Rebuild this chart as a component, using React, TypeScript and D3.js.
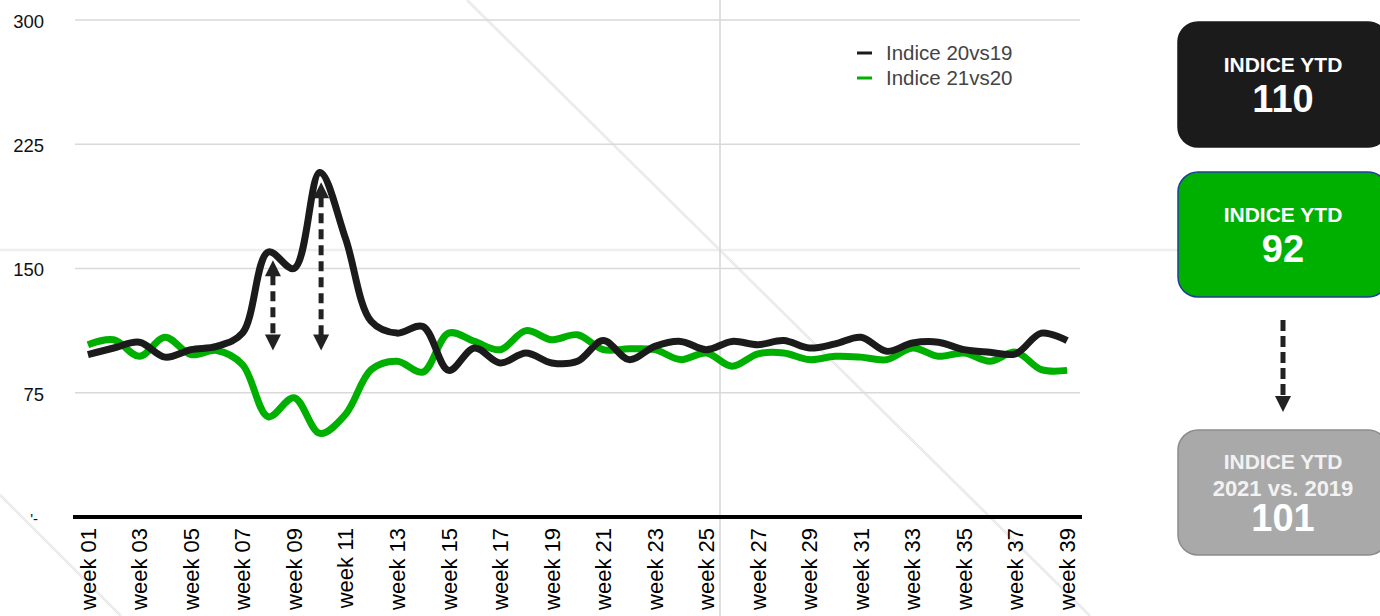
import React, { useEffect, useRef } from 'react'
import * as d3 from 'd3'

const weeks = d3.range(1, 40).map((w) => `week ${String(w).padStart(2, '0')}`)

// Indice 20vs19
const index2019 = [
  98, 102, 105.5, 96.5, 101, 103, 111, 160, 150, 208, 168, 118, 111, 115, 88.5, 102, 93, 99, 93, 94,
  106.5, 95, 103, 106, 101, 106, 104, 106.5, 102, 104.5, 108.5, 100, 105, 105.5, 101, 99.5, 98.5, 111, 106.5,
]
// Indice 21vs20
const index2020 = [
  104, 107, 97, 108.5, 98, 100.5, 92, 60.5, 72, 50.5, 62, 89, 94, 87.5, 111, 106, 101, 112.5, 107, 110,
  101, 101.5, 101, 95, 99, 91, 98.5, 99, 95, 97, 96.5, 95, 102, 97, 99, 94, 99.5, 89, 88.5,
]

const seriesNames = ['Indice 20vs19', 'Indice 21vs20']
const seriesColors = ['#1b1b1b', '#00b000']

const yTicks = [0, 75, 150, 225, 300]
const yTickLabels = ["'-", '75', '150', '225', '300']

// dashed double arrows: week position, from value, to value
const gapArrows = [
  { week: 8.18, low: 100.5, high: 155 },
  { week: 10.05, low: 100.5, high: 202 },
]

const ytdTitles = ['INDICE YTD', 'INDICE YTD', 'INDICE YTD']
const ytdSubtitles = ['', '', '2021 vs. 2019']
const ytdValues = ['110', '92', '101']
const ytdFills = ['#1b1b1b', '#00b000', '#a9a9a9']
const ytdStrokes = ['#1b1b1b', '#1d3f9a', '#8c8c8c']

const App = () => {
  const svgRef = useRef<SVGSVGElement>(null)
  const width = 1380
  const height = 616
  const plot = { left: 75, right: 1080, top: 20, bottom: 517 }

  useEffect(() => {
    const svg = d3.select(svgRef.current)
    svg.selectAll('*').remove()
    const font = '"Liberation Sans", Arial, Helvetica, sans-serif'

    const x = d3.scaleBand<string>().domain(weeks).range([plot.left, plot.right])
    const bw = x.bandwidth()
    const xc = (w: string) => (x(w) as number) + bw / 2
    const xw = d3
      .scaleLinear()
      .domain([1, weeks.length])
      .range([xc(weeks[0]), xc(weeks[weeks.length - 1])])
    const y = d3.scaleLinear().domain([0, 300]).range([plot.bottom, plot.top])

    // screenshot guide lines
    const guides = svg.append('g').attr('class', 'guides')
    guides
      .append('line')
      .attr('x1', 0)
      .attr('x2', 1180)
      .attr('y1', 250)
      .attr('y2', 250)
      .style('stroke', '#eeeeee')
      .style('stroke-width', 2.5)
    ;[
      [467, 0, 1090, 616],
      [0, 495, 121, 616],
    ].forEach(([x1, y1, x2, y2]) => {
      guides
        .append('line')
        .attr('x1', x1)
        .attr('y1', y1)
        .attr('x2', x2)
        .attr('y2', y2)
        .style('stroke', '#e6e6e6')
        .style('stroke-width', 2.5)
      guides
        .append('line')
        .attr('x1', x1)
        .attr('y1', y1)
        .attr('x2', x2)
        .attr('y2', y2)
        .style('stroke', '#f6f6f6')
        .style('stroke-width', 0.8)
    })

    // grid
    const grid = svg.append('g').attr('class', 'grid')
    grid
      .selectAll('line')
      .data(yTicks.slice(1))
      .join('line')
      .attr('x1', plot.left)
      .attr('x2', plot.right)
      .attr('y1', (d) => y(d))
      .attr('y2', (d) => y(d))
      .style('stroke', '#d9d9d9')
      .style('stroke-width', 1.5)

    guides
      .append('line')
      .attr('x1', 720)
      .attr('x2', 720)
      .attr('y1', 0)
      .attr('y2', height)
      .style('stroke', '#d4d4d4')
      .style('stroke-width', 1.5)

    // y labels
    svg
      .append('g')
      .selectAll('text')
      .data(yTicks)
      .join('text')
      .attr('x', (d, i) => (i === 0 ? 38 : 44))
      .attr('y', (d) => y(d) + 1.5)
      .attr('dy', '0.35em')
      .attr('text-anchor', 'end')
      .style('font-family', font)
      .style('font-size', (d, i) => (i === 0 ? '15px' : '18.5px'))
      .style('fill', '#111')
      .text((d, i) => yTickLabels[i])

    // lines
    const line = d3
      .line<number>()
      .x((d, i) => xc(weeks[i]))
      .y((d) => y(d))
      .curve(d3.curveCatmullRom.alpha(0.5))

    svg
      .append('g')
      .selectAll('path')
      .data([index2020, index2019])
      .join('path')
      .attr('d', (d) => line(d))
      .style('fill', 'none')
      .style('stroke', (d, i) => seriesColors[1 - i])
      .style('stroke-width', 7)
      .style('stroke-linejoin', 'round')
      .style('stroke-linecap', 'butt')

    // baseline
    svg
      .append('line')
      .attr('x1', plot.left - 2)
      .attr('x2', plot.right + 2)
      .attr('y1', y(0))
      .attr('y2', y(0))
      .style('stroke', '#000')
      .style('stroke-width', 4)

    // x labels
    svg
      .append('g')
      .selectAll('text')
      .data(weeks.filter((w, i) => i % 2 === 0))
      .join('text')
      .attr('transform', (d) => `translate(${xc(d)},${y(0) + 11}) rotate(-90)`)
      .attr('dy', '0.36em')
      .attr('text-anchor', 'end')
      .style('font-family', font)
      .style('font-size', '22px')
      .style('fill', '#000')
      .text((d) => d)

    // arrows
    const head = 8
    const arrowColor = '#222'
    const arrows = svg.append('g').attr('class', 'arrows')
    gapArrows.forEach((a) => {
      const ax = xw(a.week)
      const yTop = y(a.high)
      const yBot = y(a.low)
      arrows
        .append('line')
        .attr('x1', ax)
        .attr('x2', ax)
        .attr('y1', yTop + 15)
        .attr('y2', yBot - 15)
        .style('stroke', arrowColor)
        .style('stroke-width', 5)
        .style('stroke-dasharray', '10,6')
      arrows
        .append('path')
        .attr('d', `M${ax},${yTop}L${ax + head},${yTop + 16}L${ax - head},${yTop + 16}Z`)
        .style('fill', arrowColor)
      arrows
        .append('path')
        .attr('d', `M${ax},${yBot}L${ax + head},${yBot - 16}L${ax - head},${yBot - 16}Z`)
        .style('fill', arrowColor)
    })

    // legend
    const legend = svg.append('g').attr('transform', 'translate(857,53)')
    seriesNames.forEach((name, i) => {
      const row = legend.append('g').attr('transform', `translate(0,${i * 25})`)
      row
        .append('line')
        .attr('x1', 0)
        .attr('x2', 15)
        .style('stroke', seriesColors[i])
        .style('stroke-width', 3)
      row
        .append('text')
        .attr('x', 29)
        .attr('dy', '0.35em')
        .style('font-family', font)
        .style('font-size', '20.5px')
        .style('fill', '#444')
        .text(name)
    })

    // YTD boxes
    const boxTops = [22, 172, 430]
    const cx = 1283
    const boxes = svg.append('g').attr('class', 'ytd')
    ytdValues.forEach((v, i) => {
      const g = boxes.append('g').attr('transform', `translate(0,${boxTops[i]})`)
      g.append('rect')
        .attr('x', 1178)
        .attr('width', 210)
        .attr('height', 125)
        .attr('rx', 20)
        .style('fill', ytdFills[i])
        .style('stroke', ytdStrokes[i])
        .style('stroke-width', 1.5)
      const hasSub = ytdSubtitles[i] !== ''
      g.append('text')
        .attr('x', cx)
        .attr('y', hasSub ? 32 : 43)
        .attr('dy', '0.35em')
        .attr('text-anchor', 'middle')
        .style('font-family', font)
        .style('font-weight', 'bold')
        .style('font-size', '21px')
        .style('fill', hasSub ? '#f2f2f2' : '#fff')
        .text(ytdTitles[i])
      if (hasSub) {
        g.append('text')
          .attr('x', cx)
          .attr('y', 58)
          .attr('dy', '0.35em')
          .attr('text-anchor', 'middle')
          .style('font-family', font)
          .style('font-weight', 'bold')
          .style('font-size', '22px')
          .style('fill', '#f2f2f2')
          .text(ytdSubtitles[i])
      }
      g.append('text')
        .attr('x', cx)
        .attr('y', hasSub ? 88 : 77)
        .attr('dy', '0.35em')
        .attr('text-anchor', 'middle')
        .style('font-family', font)
        .style('font-weight', 'bold')
        .style('font-size', '38px')
        .style('fill', '#fff')
        .text(v)
    })

    // arrow between boxes
    boxes
      .append('line')
      .attr('x1', cx)
      .attr('x2', cx)
      .attr('y1', 320)
      .attr('y2', 397)
      .style('stroke', arrowColor)
      .style('stroke-width', 5)
      .style('stroke-dasharray', '11,5')
    boxes
      .append('path')
      .attr('d', `M${cx},412L${cx + head},396L${cx - head},396Z`)
      .style('fill', arrowColor)
  }, [])

  return (
    <div style={{ position: 'fixed', left: 0, top: 0, width, height, background: '#fff' }}>
      <svg ref={svgRef} width={width} height={height} viewBox={`0 0 ${width} ${height}`}></svg>
    </div>
  )
}

export default App
